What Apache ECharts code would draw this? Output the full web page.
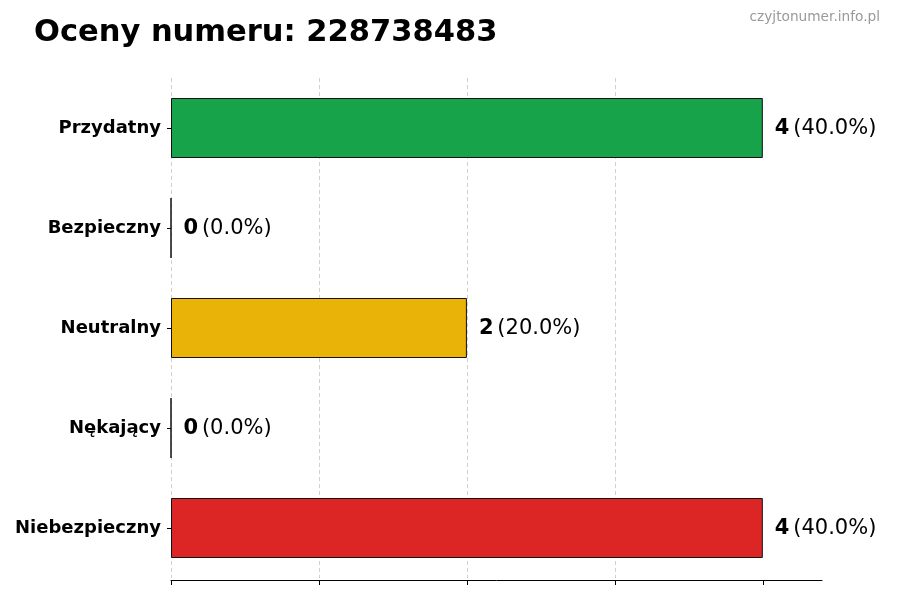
<!DOCTYPE html>
<html><head><meta charset="utf-8">
<script src="https://cdn.jsdelivr.net/npm/echarts@6/dist/echarts.min.js"></script>
<style>html,body{margin:0;padding:0;background:#fff}#c{width:900px;height:600px}</style>
</head><body><div id="c"></div>
<script>
const categories = ['Przydatny', 'Bezpieczny', 'Neutralny', 'Nękający', 'Niebezpieczny'];
const counts = [4, 0, 2, 0, 4];
const percents = [40.0, 0.0, 20.0, 0.0, 40.0];
const barColors = ['#16a34a', '#2563eb', '#eab308', '#f97316', '#dc2626'];
const xTicks = [0, 1, 2, 3, 4];
const titleText = 'Oceny numeru: 228738483';
const watermark = 'czyjtonumer.info.pl';

const FONT = 'DejaVu Sans';
const chart = echarts.init(document.getElementById('c'));
chart.setOption({
  animation: false,
  textStyle: { fontFamily: FONT },
  title: [
    { text: titleText, left: 29, top: 13, textStyle: { fontFamily: FONT, fontSize: 30.5, fontWeight: 'bold', color: '#000' } },
    { text: watermark, right: 15, top: 5, textStyle: { fontFamily: FONT, fontSize: 13.7, fontWeight: 'normal', color: '#999' } }
  ],
  grid: { left: 171, right: 78, top: 78, bottom: 22 },
  xAxis: {
    type: 'value', min: 0, max: 4.4, interval: 1, offset: 2,
    axisLine: { show: true, lineStyle: { color: '#000', width: 1 } },
    axisTick: { show: true, length: 5, inside: false, customValues: xTicks, lineStyle: { color: '#000' } },
    axisLabel: { show: false },
    splitLine: { show: true, showMaxLine: false, lineStyle: { color: '#d0d0d0', type: [4, 3], width: 1 } }
  },
  yAxis: {
    type: 'category', data: categories, inverse: true,
    axisLine: { show: false },
    axisTick: { show: true, alignWithLabel: true, length: 4, lineStyle: { color: '#000' } },
    axisLabel: { fontFamily: FONT, fontSize: 18, fontWeight: 'bold', color: '#000', margin: 10 },
    splitLine: { show: false }
  },
  series: [{
    type: 'bar',
    barWidth: '60%',
    data: counts.map((v, i) => ({ value: v, itemStyle: { color: barColors[i] } })),
    itemStyle: { borderColor: '#111', borderWidth: 1 },
    label: {
      show: true, position: 'right', distance: 12, offset: [0, 1],
      formatter: p => '{b|' + counts[p.dataIndex] + '} {n|(' + percents[p.dataIndex].toFixed(1) + '%)}',
      rich: {
        b: { fontFamily: FONT, fontSize: 21, fontWeight: 'bold', color: '#000' },
        n: { fontFamily: FONT, fontSize: 21, color: '#000' }
      }
    }
  }]
});
</script></body></html>
